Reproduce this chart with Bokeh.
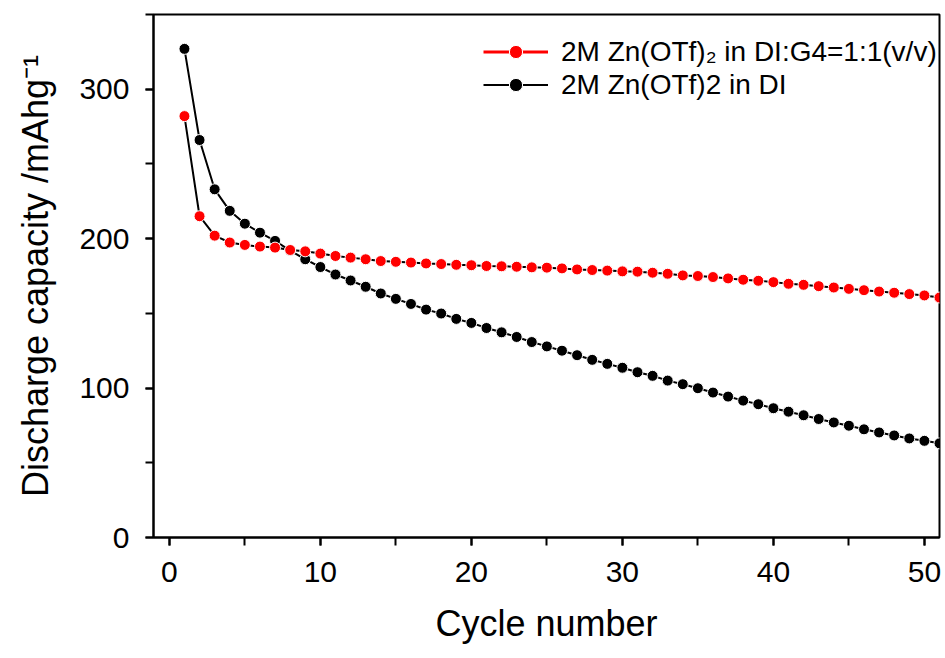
from bokeh.plotting import figure
from bokeh.models import (Legend, LegendItem, ColumnDataSource, CDSView, IndexFilter,
                          Range1d, SingleIntervalTicker)
from bokeh.embed import file_html
from bokeh.resources import INLINE

# ---------------- data ----------------
cycles = list(range(1, 52))

cap_di_g4 = [282, 215, 202, 197.4, 195.8, 194.7, 194, 192.4, 191.5, 190,
             188.4, 187.3, 186.2, 185, 184.5, 184, 183.4, 183, 182.5, 182.2,
             181.7, 181.5, 181.2, 180.8, 180.6, 180.1, 179.4, 179, 178.6, 178.1,
             177.9, 177.2, 176.5, 175.4, 175, 174.3, 173.4, 172.5, 171.8, 170.9,
             169.8, 169.1, 168.2, 167.3, 166.4, 165.5, 164.6, 163.8, 162.9, 162,
             160.6]

cap_di = [327, 266, 233, 218.6, 210, 204, 198.5, 192, 186.2, 181,
          176, 172, 167.8, 163.3, 159.7, 156.3, 152.5, 149.9, 146.3, 143.6,
          140.2, 137.3, 134.2, 130.8, 127.9, 125, 122, 118.9, 116.2, 113.6,
          110.6, 108.2, 105, 102.6, 99.9, 97, 94.3, 91.6, 89.2, 86.5,
          84.2, 81.8, 79.3, 77, 74.8, 72.4, 70.3, 68.3, 66.3, 64.7,
          63]

label_di_g4 = "2M Zn(OTf)\u2082 in DI:G4=1:1(v/v)"
label_di = "2M Zn(OTf)2 in DI"
x_label = "Cycle number"
y_label = "Discharge capacity /mAhg\u207b\u00b9"

FONT = "Liberation Sans"

# ---------------- figure ----------------
p = figure(width=945, height=658, output_backend="svg", toolbar_location=None,
           x_range=Range1d(-1.05, 51), y_range=Range1d(0, 350),
           min_border_left=153, min_border_right=6, min_border_top=14,
           min_border_bottom=121)
p.grid.visible = False
p.outline_line_color = "black"
p.outline_line_width = 2
p.background_fill_color = "white"
p.border_fill_color = "white"

p.xaxis.ticker = SingleIntervalTicker(interval=10, num_minor_ticks=2)
p.yaxis.ticker = SingleIntervalTicker(interval=100, num_minor_ticks=2)

for ax in (p.xaxis[0], p.yaxis[0]):
    ax.axis_line_width = 2
    ax.axis_line_color = "black"
    ax.major_tick_line_width = 2
    ax.minor_tick_line_width = 2
    ax.major_tick_line_color = "black"
    ax.minor_tick_line_color = "black"
    ax.major_tick_out = 8
    ax.major_tick_in = 0
    ax.minor_tick_out = 8
    ax.minor_tick_in = 0
    ax.major_label_text_font = FONT
    ax.major_label_text_font_size = "30px"
    ax.major_label_text_color = "black"
    ax.major_label_standoff = 16
    ax.axis_label_text_font = FONT
    ax.axis_label_text_font_size = "36px"
    ax.axis_label_text_font_style = "normal"
    ax.axis_label_text_color = "black"

p.xaxis.axis_label = x_label
p.yaxis.axis_label = y_label
p.xaxis.axis_label_standoff = 18
p.yaxis.axis_label_standoff = 20

src_g4 = ColumnDataSource(dict(x=cycles, y=cap_di_g4))
src_di = ColumnDataSource(dict(x=cycles, y=cap_di))

# legend-only red line: a single-point view draws no segment in the plot
g4_leg_line = p.line("x", "y", source=src_g4, line_color="red", line_width=3,
                     view=CDSView(filter=IndexFilter(indices=[0])))

di_line = p.line("x", "y", source=src_di, line_color="black", line_width=2)
g4_line = p.line("x", "y", source=src_g4, line_color="black", line_width=2)
di_pts = p.scatter("x", "y", source=src_di, size=11, fill_color="black",
                   line_color="white", line_width=1)
g4_pts = p.scatter("x", "y", source=src_g4, size=11, fill_color="red",
                   line_color="white", line_width=1)

legend = Legend(items=[
    LegendItem(label=label_di_g4, renderers=[g4_leg_line, g4_pts]),
    LegendItem(label=label_di, renderers=[di_line, di_pts]),
], location=(330, 436), glyph_width=65, glyph_height=33, label_height=33,
    label_standoff=13, spacing=0, padding=0, margin=0,
    border_line_color=None, background_fill_alpha=0,
    label_text_font=FONT, label_text_font_size="28px", label_text_color="black")
p.add_layout(legend)

open("out.html", "w").write(file_html(p, INLINE))
